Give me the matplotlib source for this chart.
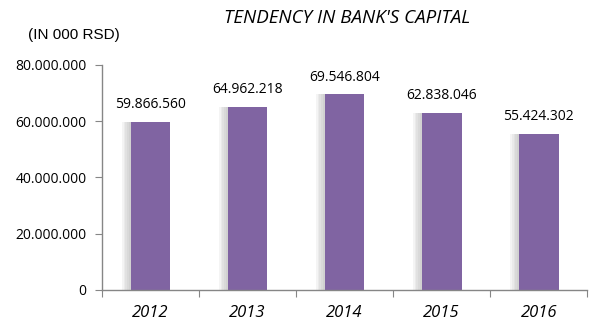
import matplotlib.pyplot as plt
from matplotlib.ticker import FuncFormatter

years = ["2012", "2013", "2014", "2015", "2016"]
capital = [59866560, 64962218, 69546804, 62838046, 55424302]
y_ticks = [0, 20000000, 40000000, 60000000, 80000000]


def dotted(v):
    return "0" if v == 0 else f"{int(v):,}".replace(",", ".")


fig = plt.figure(figsize=(5.89, 3.25), dpi=100)
ax = fig.add_axes([0.173, 0.108, 0.824, 0.692])

x = list(range(len(years)))
# soft shadow to the left of each bar, like the spreadsheet style
for k in range(5):
    off = 0.018 * (5 - k)
    ax.bar([i - off for i in x], capital, width=0.41, color="#707070",
           alpha=0.07, zorder=1, linewidth=0)
ax.bar(x, capital, width=0.41, color="#8064A2", zorder=2)

for i, v in zip(x, capital):
    ax.text(i, v + 3500000, dotted(v), ha="center", va="bottom",
            fontsize=10, family="Open Sans", color="#000000")

ax.set_xlim(-0.5, len(years) - 0.5)
ax.set_ylim(0, 80000000)
ax.set_yticks(y_ticks)
ax.yaxis.set_major_formatter(FuncFormatter(lambda v, p: dotted(v)))
ax.set_xticks([i + 0.5 for i in range(-1, len(years))], minor=False)
ax.set_xticklabels([])
ax.set_xticks(x, minor=True)
ax.set_xticklabels(years, minor=True, fontsize=12, style="italic", family="Open Sans")
ax.tick_params(axis="x", which="major", length=5, color="#868686", direction="out")
ax.tick_params(axis="x", which="minor", length=0, pad=11)
ax.tick_params(axis="y", length=5, color="#868686", labelsize=10, pad=6)
for lbl in ax.get_yticklabels():
    lbl.set_family("Open Sans")

for s in ["top", "right"]:
    ax.spines[s].set_visible(False)
for s in ["left", "bottom"]:
    ax.spines[s].set_color("#868686")
    ax.spines[s].set_linewidth(1.0)

fig.text(0.59, 0.945, "TENDENCY IN BANK'S CAPITAL", ha="center", va="center",
         fontsize=13.5, style="italic", family="Open Sans")
fig.text(0.047, 0.893, "(IN 000 RSD)", ha="left", va="center",
         fontsize=11, family="Liberation Sans")

fig.savefig("out.png", dpi=100)
